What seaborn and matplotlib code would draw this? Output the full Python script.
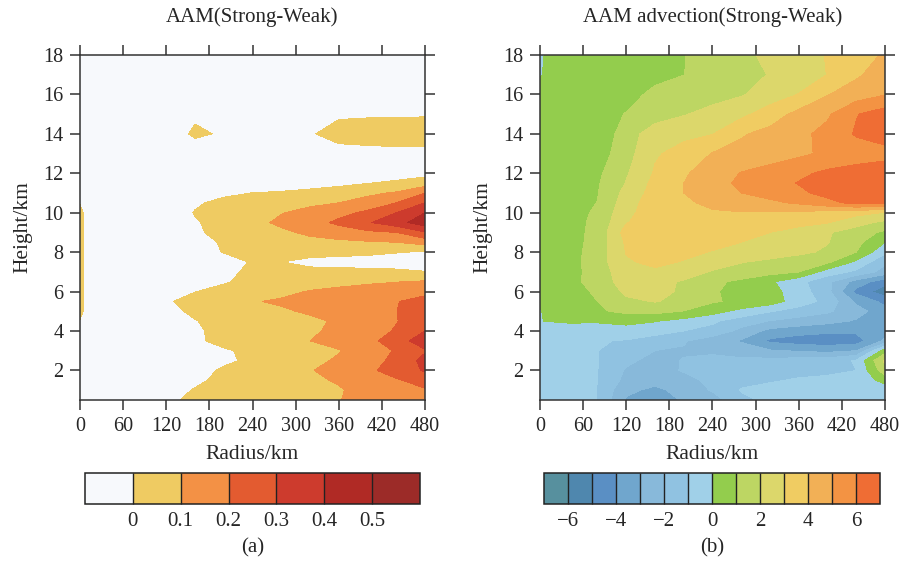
import numpy as np
import matplotlib
matplotlib.use("Agg")
import matplotlib.pyplot as plt
from matplotlib.colors import ListedColormap, BoundaryNorm
import seaborn as sns

# ---------------- data ----------------
radius = [0, 40, 80, 120, 160, 200, 240, 280, 320, 360, 400, 440, 480]
height = [0.5, 1.0, 1.5, 2.0, 2.5, 3.0, 3.5, 4.0, 4.5, 5.0, 5.5, 6.0, 6.5, 7.0,
          7.5, 8.0, 8.5, 9.0, 9.5, 10.0, 10.5, 11.0, 11.5, 12.0, 13.0, 14.0,
          15.0, 16.0, 17.0, 18.0]

# AAM (Strong - Weak), rows = height, columns = radius
aam_diff = [
    [-0.1, -0.1, -0.1, -0.02, 0.02, 0.04, 0.055, 0.07, 0.085, 0.098, 0.12, 0.15, 0.18],
    [-0.1, -0.1, -0.1, -0.06, 0.01, 0.04, 0.055, 0.07, 0.08, 0.095, 0.12, 0.15, 0.19],
    [-0.1, -0.1, -0.1, -0.1, -0.03, 0.04, 0.06, 0.075, 0.09, 0.105, 0.15, 0.19, 0.24],
    [-0.1, -0.1, -0.1, -0.1, -0.08, 0.03, 0.06, 0.08, 0.095, 0.13, 0.18, 0.24, 0.31],
    [-0.1, -0.1, -0.1, -0.1, -0.1, -0.04, 0.04, 0.06, 0.08, 0.11, 0.15, 0.23, 0.33],
    [-0.1, -0.1, -0.1, -0.1, -0.1, -0.02, 0.04, 0.055, 0.075, 0.095, 0.14, 0.21, 0.29],
    [-0.1, -0.1, -0.1, -0.1, -0.03, 0.05, 0.06, 0.08, 0.10, 0.13, 0.17, 0.25, 0.36],
    [-0.1, -0.1, -0.1, -0.1, -0.02, 0.04, 0.06, 0.075, 0.09, 0.115, 0.15, 0.21, 0.30],
    [-0.002, -0.1, -0.1, -0.1, -0.005, 0.04, 0.06, 0.07, 0.085, 0.11, 0.15, 0.195, 0.27],
    [0.012, -0.1, -0.1, -0.03, 0.02, 0.04, 0.06, 0.09, 0.11, 0.13, 0.16, 0.198, 0.26],
    [0.012, -0.1, -0.1, -0.01, 0.03, 0.06, 0.095, 0.11, 0.12, 0.135, 0.16, 0.195, 0.24],
    [0.012, -0.1, -0.1, -0.1, -0.002, 0.03, 0.06, 0.08, 0.105, 0.12, 0.14, 0.155, 0.17],
    [0.012, -0.1, -0.1, -0.1, -0.1, -0.01, 0.03, 0.05, 0.065, 0.075, 0.085, 0.097, 0.11],
    [0.012, -0.1, -0.1, -0.1, -0.1, -0.05, 0.04, 0.04, 0.04, 0.035, 0.03, 0.02, 0.003],
    [0.012, -0.1, -0.1, -0.1, -0.1, -0.1, 0.02, 0.002, -0.04, -0.05, -0.05, -0.05, -0.05],
    [0.012, -0.1, -0.1, -0.1, -0.1, 0.01, 0.04, 0.05, 0.05, 0.04, 0.025, 0.005, -0.01],
    [0.012, -0.1, -0.1, -0.1, -0.1, 0.03, 0.05, 0.06, 0.07, 0.08, 0.09, 0.10, 0.14],
    [0.012, -0.1, -0.1, -0.1, -0.02, 0.04, 0.06, 0.08, 0.12, 0.15, 0.18, 0.20, 0.29],
    [0.012, -0.1, -0.1, -0.1, -0.01, 0.04, 0.07, 0.12, 0.16, 0.22, 0.29, 0.36, 0.46],
    [0.012, -0.1, -0.1, -0.1, 0.008, 0.045, 0.06, 0.095, 0.13, 0.17, 0.22, 0.30, 0.40],
    [-0.002, -0.1, -0.1, -0.1, -0.02, 0.04, 0.05, 0.065, 0.08, 0.10, 0.14, 0.20, 0.30],
    [-0.1, -0.1, -0.1, -0.1, -0.1, -0.03, 0.002, 0.02, 0.04, 0.06, 0.08, 0.11, 0.20],
    [-0.1, -0.1, -0.1, -0.1, -0.1, -0.1, -0.1, -0.1, -0.06, -0.03, -0.003, 0.02, 0.05],
    [-0.1, -0.1, -0.1, -0.1, -0.1, -0.1, -0.1, -0.1, -0.1, -0.1, -0.08, -0.05, -0.03],
    [-0.1, -0.1, -0.1, -0.1, -0.1, -0.1, -0.1, -0.1, -0.06, -0.04, -0.035, -0.03, -0.03],
    [-0.1, -0.1, -0.1, -0.1, 0.03, -0.02, -0.1, -0.05, -0.01, 0.04, 0.05, 0.055, 0.06],
    [-0.1, -0.1, -0.1, -0.1, -0.03, -0.1, -0.1, -0.1, -0.05, -0.015, -0.012, -0.01, -0.01],
    [-0.1, -0.1, -0.1, -0.1, -0.1, -0.1, -0.1, -0.1, -0.1, -0.1, -0.1, -0.1, -0.1],
    [-0.1, -0.1, -0.1, -0.1, -0.1, -0.1, -0.1, -0.1, -0.1, -0.1, -0.1, -0.1, -0.1],
    [-0.1, -0.1, -0.1, -0.1, -0.1, -0.1, -0.1, -0.1, -0.1, -0.1, -0.1, -0.1, -0.1],
]

# AAM advection (Strong - Weak)
adv_diff = [
    [-0.3, -0.5, -1.02, -3.1, -3.5, -2.9, -2.5, -1.2, -0.8, -0.7, -0.7, -0.7, -0.8],
    [-0.3, -0.5, -1.02, -2.8, -3.2, -2.7, -1.9, -0.95, -0.7, -0.6, -0.5, -0.5, -0.6],
    [-0.3, -0.5, -1.0, -2.3, -2.7, -2.4, -1.7, -1.2, -1.1, -0.9, -0.8, -0.7, 0.35],
    [-0.3, -0.5, -0.98, -2.1, -2.5, -1.9, -1.6, -1.5, -1.4, -1.3, -1.2, -1.0, 1.6],
    [-0.3, -0.5, -0.98, -1.8, -2.3, -1.95, -1.7, -1.8, -1.7, -1.6, -1.5, -0.9, 2.2],
    [-0.3, -0.5, -0.98, -1.6, -2.0, -2.1, -2.2, -2.5, -2.9, -3.1, -3.3, -3.0, 0.5],
    [-0.3, -0.55, -0.9, -1.1, -1.5, -1.9, -2.6, -3.1, -4.2, -4.5, -4.6, -4.5, -2.8],
    [-0.3, -0.6, -0.7, -0.18, -0.6, -1.0, -1.3, -2.3, -3.3, -3.6, -3.8, -3.8, -3.5],
    [-0.02, 0.15, 0.15, 0.12, 0.05, -0.35, -0.85, -1.5, -2.05, -2.4, -2.7, -3.1, -3.5],
    [-0.04, 0.6, 0.85, 1.25, 1.3, 0.97, 0.4, -0.3, -0.93, -1.4, -1.85, -2.6, -3.6],
    [0.05, 0.6, 1.0, 1.8, 2.05, 1.75, 1.1, 0.8, 0.5, -0.5, -1.3, -3.2, -4.3],
    [0.5, 0.6, 1.15, 2.2, 2.3, 1.85, 1.05, 0.85, 0.35, -0.5, -1.7, -4.3, -5.6],
    [0.5, 0.6, 1.5, 2.4, 2.3, 1.9, 1.2, 0.8, 0.15, -0.7, -1.75, -3.4, -4.6],
    [0.5, 0.6, 1.45, 2.6, 2.85, 2.5, 1.9, 1.6, 1.35, 1.02, -0.45, -1.2, -2.4],
    [0.5, 0.6, 1.5, 2.9, 3.2, 2.95, 2.6, 2.05, 1.8, 1.5, 1.2, -0.2, -1.8],
    [0.5, 0.6, 1.45, 3.05, 3.3, 3.2, 2.95, 2.7, 2.45, 2.2, 1.85, 1.0, -0.8],
    [0.5, 0.6, 1.35, 3.15, 3.4, 3.4, 3.25, 3.0, 2.75, 2.4, 2.05, 1.3, 0.0],
    [0.5, 0.6, 1.3, 3.4, 3.55, 3.6, 3.5, 3.3, 3.0, 2.6, 2.1, 1.5, 0.8],
    [0.5, 0.6, 1.25, 2.95, 3.5, 3.7, 3.75, 3.7, 3.5, 3.3, 3.05, 2.4, 1.75],
    [0.5, 0.6, 1.15, 2.7, 3.6, 3.8, 3.9, 3.95, 3.9, 3.8, 3.6, 3.3, 2.95],
    [0.5, 0.6, 1.02, 2.5, 3.6, 3.85, 4.2, 4.5, 4.8, 5.15, 5.7, 6.3, 6.2],
    [0.5, 0.6, 0.95, 2.3, 3.4, 4.0, 4.5, 5.0, 5.35, 5.8, 6.3, 6.6, 6.8],
    [0.5, 0.6, 0.9, 2.05, 3.3, 4.0, 4.6, 5.2, 5.6, 6.05, 6.4, 6.7, 6.8],
    [0.5, 0.6, 0.8, 1.9, 3.1, 3.9, 4.4, 5.05, 5.4, 5.8, 6.2, 6.4, 6.5],
    [0.4, 0.45, 0.5, 1.6, 2.9, 3.3, 4.05, 4.3, 4.5, 4.8, 5.2, 5.5, 5.7],
    [0.3, 0.3, 0.3, 1.45, 2.6, 2.8, 2.97, 3.9, 4.3, 4.75, 5.3, 6.1, 6.4],
    [0.4, 0.6, 0.8, 1.02, 1.45, 1.93, 2.35, 2.75, 3.5, 4.3, 4.85, 5.95, 6.5],
    [0.4, 0.55, 0.7, 0.85, 1.1, 1.35, 1.6, 1.92, 2.45, 3.03, 3.95, 4.5, 4.95],
    [-0.05, 0.55, 0.7, 0.8, 0.88, 0.99, 1.3, 1.65, 2.05, 2.5, 3.02, 3.85, 4.5],
    [-0.1, 0.6, 0.7, 0.8, 0.88, 0.97, 1.35, 1.78, 2.2, 2.6, 3.05, 3.6, 4.1],
]

aam_levels = [-1.0, 0.0, 0.1, 0.2, 0.3, 0.4, 0.5, 1.0]
aam_ticks = [0, 0.1, 0.2, 0.3, 0.4, 0.5]
aam_tick_labels = ["0", "0.1", "0.2", "0.3", "0.4", "0.5"]
aam_colors = ["#f7f9fc", "#efcb62", "#f39145", "#e35b30", "#cd3b2d", "#b02a25", "#9c2b28"]

adv_levels = [-7, -6, -5, -4, -3, -2, -1, 0, 1, 2, 3, 4, 5, 6, 7]
adv_ticks = [-6, -4, -2, 0, 2, 4, 6]
adv_colors = ["#57909e", "#4f87ae", "#5a8fc4", "#70a6cd", "#88b9da", "#90c2e1",
              "#a0d0e8", "#93cd4d", "#bdd663", "#dcd76b", "#f0cc62", "#f2b056",
              "#f39343", "#ef6d34"]

x_ticks = [0, 60, 120, 180, 240, 300, 360, 420, 480]
y_ticks = [2, 4, 6, 8, 10, 12, 14, 16, 18]

titles = ["AAM(Strong-Weak)", "AAM advection(Strong-Weak)"]
panel_tags = ["(a)", "(b)"]

# ---------------- style ----------------
sns.set_theme(style="ticks")
plt.rcParams["font.family"] = ["Liberation Serif", "DejaVu Serif"]
plt.rcParams["axes.edgecolor"] = "#333333"
plt.rcParams["axes.linewidth"] = 1.1

fig = plt.figure(figsize=(9.01, 5.64), dpi=100)

R, Z = np.meshgrid(np.array(radius, float), np.array(height, float))

panels = [
    (aam_diff, aam_levels, aam_colors, aam_ticks, aam_tick_labels,
     [0.0888, 0.2908, 0.3829, 0.6117], [0.0943, 0.1064, 0.3718, 0.055]),
    (adv_diff, adv_levels, adv_colors, adv_ticks, [str(t).replace("-", "\u2212") for t in adv_ticks],
     [0.5993, 0.2908, 0.3829, 0.6117], [0.6038, 0.1064, 0.3729, 0.055]),
]

for i, (data, levels, colors, ticks, tlabels, axpos, cbpos) in enumerate(panels):
    ax = fig.add_axes(axpos)
    cmap = ListedColormap(sns.color_palette(colors))
    norm = BoundaryNorm(levels, cmap.N)
    cf = ax.contourf(R, Z, np.array(data, float), levels=levels, cmap=cmap, norm=norm)
    ax.set_xlim(0, 480)
    ax.set_ylim(0.5, 18)
    ax.set_xticks(x_ticks)
    ax.set_yticks(y_ticks)
    ax.tick_params(direction="out", length=7, width=1.1, color="#333333",
                   top=True, right=True, labelsize=14.5, pad=5)
    for s in ax.spines.values():
        s.set_visible(True)
        s.set_color("#333333")
    ax.set_xlabel("Radius/km", fontsize=15.5, labelpad=7)
    ax.set_ylabel("Height/km", fontsize=15.5, labelpad=8)
    ax.set_title(titles[i], fontsize=15, pad=24)

    cax = fig.add_axes(cbpos)
    cb = fig.colorbar(cf, cax=cax, orientation="horizontal", ticks=ticks,
                      drawedges=True, spacing="uniform")
    cb.set_ticklabels(tlabels)
    cax.minorticks_off()
    cb.outline.set_edgecolor("#222222")
    cb.outline.set_linewidth(1.1)
    cb.dividers.set_color("#222222")
    cb.dividers.set_linewidth(1.0)
    cax.tick_params(which="both", length=0, labelsize=15, pad=6)
    cax.set_xlabel(panel_tags[i], fontsize=15, labelpad=5)

fig.savefig("out.png", dpi=100)
